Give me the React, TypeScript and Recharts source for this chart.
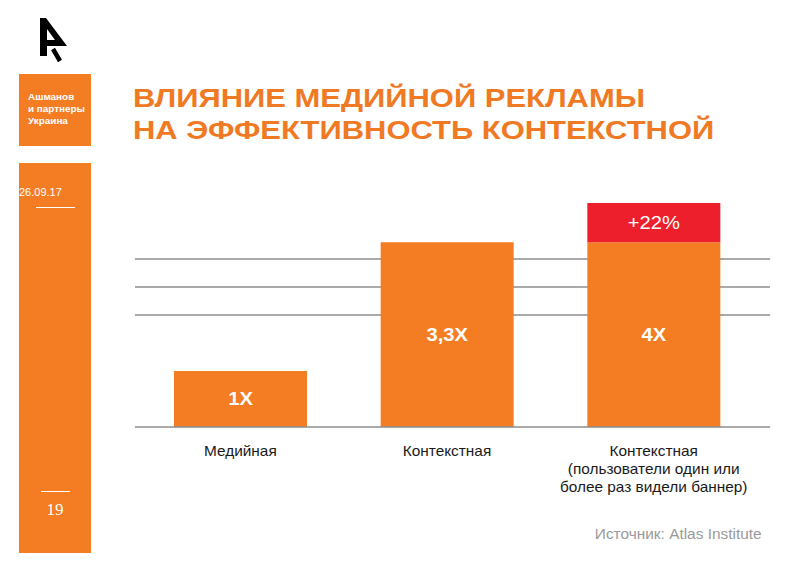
import React from 'react';
import { BarChart, Bar, XAxis, YAxis, ReferenceLine, LabelList } from 'recharts';

const categories: string[][] = [
  ['Медийная'],
  ['Контекстная'],
  ['Контекстная', '(пользователи один или', 'более раз видели баннер)'],
];
const baseValues = [1, 3.3, 3.3];
const extraValues = [0, 0, 0.7];
const baseLabels = ['1X', '3,3X', '4X'];
const extraLabels = ['', '', '+22%'];
const gridTicks = [2, 2.5, 3];
const titleLines = ['ВЛИЯНИЕ МЕДИЙНОЙ РЕКЛАМЫ', 'НА ЭФФЕКТИВНОСТЬ КОНТЕКСТНОЙ'];
const companyLines = ['Ашманов', 'и партнеры', 'Украина'];
const dateText = '26.09.17';
const pageNumber = '19';
const sourceText = 'Источник: Atlas Institute';

const ORANGE = '#F47D23';
const RED = '#EE1F2D';
const FONT = '"Liberation Sans", Arial, sans-serif';
const SX = 1.1;

const data = categories.map((c, i) => ({
  key: String(i),
  base: baseValues[i],
  extra: extraValues[i],
  baseLabel: baseLabels[i],
  extraLabel: extraLabels[i],
}));

const Tick = (props: any) => {
  const { x, y, payload } = props;
  const lines = categories[Number(payload.value)] || [];
  return (
    <g transform={`translate(${x},${y})`}>
      <text transform={`scale(${SX},1)`} x={0} y={0} textAnchor="middle" fill="#1a1a1a" fontSize={14} fontFamily={FONT}>
        {lines.map((l, i) => (
          <tspan key={i} x={0} y={27 + i * 18}>
            {l}
          </tspan>
        ))}
      </text>
    </g>
  );
};

const makeLabel = (bold: boolean) => (props: any) => {
  const { x, y, width, height, value } = props;
  if (!value) return null;
  const cx = Number(x) + Number(width) / 2;
  const cy = Number(y) + Number(height) / 2;
  return (
    <g transform={`translate(${cx},${cy})`}>
      <text transform={`scale(1.12,1)`} x={0} y={0} dy="0.36em" textAnchor="middle" fill="#fff" fontSize={18} fontWeight={bold ? 'bold' : 'normal'} fontFamily={FONT}>
        {value}
      </text>
    </g>
  );
};

export default function App() {
  return (
    <div style={{ position: 'absolute', left: 0, top: 0, width: 800, height: 579, background: '#fff', fontFamily: FONT, overflow: 'hidden' }}>
      {/* logo */}
      <svg width={80} height={70} style={{ position: 'absolute', left: 0, top: 0 }}>
        <path d="M40,18 L46,18 L67,46 L47,46 L47,56 L40,56 Z M47,29 L55,40 L47,40 Z" fill="#000" fillRule="evenodd" />
        <line x1={53} y1={49} x2={60} y2={61} stroke="#000" strokeWidth={4.5} />
      </svg>
      {/* sidebar box 1 */}
      <div style={{ position: 'absolute', left: 19, top: 74, width: 72, height: 72, background: ORANGE }}>
        <div style={{ position: 'absolute', left: 9, top: 17, color: '#fff', fontSize: 9, fontWeight: 'bold', lineHeight: '12px', whiteSpace: 'nowrap', transform: `scaleX(${SX})`, transformOrigin: 'left top' }}>
          {companyLines.map((l, i) => (
            <div key={i}>{l}</div>
          ))}
        </div>
      </div>
      {/* sidebar box 2 */}
      <div style={{ position: 'absolute', left: 19, top: 163, width: 72, height: 390, background: ORANGE }}>
        <div style={{ position: 'absolute', left: 0, top: 22, color: '#fff', fontSize: 11, lineHeight: '14px' }}>{dateText}</div>
        <div style={{ position: 'absolute', left: 17, top: 44, width: 39, height: 1, background: '#fff' }} />
        <div style={{ position: 'absolute', left: 22, top: 328, width: 29, height: 1, background: '#fff' }} />
        <div style={{ position: 'absolute', left: 0, top: 337, width: 72, textAlign: 'center', color: '#fff', fontSize: 17, lineHeight: '20px', fontFamily: '"Liberation Serif", "DejaVu Serif", serif' }}>{pageNumber}</div>
      </div>
      {/* title */}
      <div style={{ position: 'absolute', left: 133, top: 83, color: '#F07A24', fontSize: 26, fontWeight: 'bold', lineHeight: '31.5px', whiteSpace: 'nowrap', transform: 'scaleX(1.19)', transformOrigin: 'left top' }}>
        {titleLines.map((l, i) => (
          <div key={i}>{l}</div>
        ))}
      </div>
      {/* chart */}
      <div style={{ position: 'absolute', left: 0, top: 0 }}>
        <BarChart width={800} height={579} data={data} margin={{ top: 203, right: 30, bottom: 92, left: 135 }} barCategoryGap={0}>
          <YAxis domain={[0, 4]} ticks={gridTicks} width={0} tick={false} axisLine={false} tickLine={false} />
          <XAxis dataKey="key" height={60} tick={<Tick />} tickLine={false} tickSize={0} axisLine={{ stroke: '#8c8c8c', strokeWidth: 1.3 }} padding={{ left: 2, right: 13 }} interval={0} />
          {gridTicks.map((v) => (
            <ReferenceLine key={v} y={v} stroke="#8c8c8c" strokeWidth={1.3} zIndex={-50} />
          ))}
          <Bar dataKey="base" stackId="a" fill={ORANGE} barSize={133} isAnimationActive={false}>
            <LabelList dataKey="baseLabel" content={makeLabel(true)} />
          </Bar>
          <Bar dataKey="extra" stackId="a" fill={RED} barSize={133} isAnimationActive={false}>
            <LabelList dataKey="extraLabel" content={makeLabel(false)} />
          </Bar>
        </BarChart>
      </div>
      {/* source */}
      <div style={{ position: 'absolute', right: 38, top: 525, color: '#9a9a9a', fontSize: 14, lineHeight: '18px', whiteSpace: 'nowrap', transform: `scaleX(${SX})`, transformOrigin: 'right top' }}>{sourceText}</div>
    </div>
  );
}
